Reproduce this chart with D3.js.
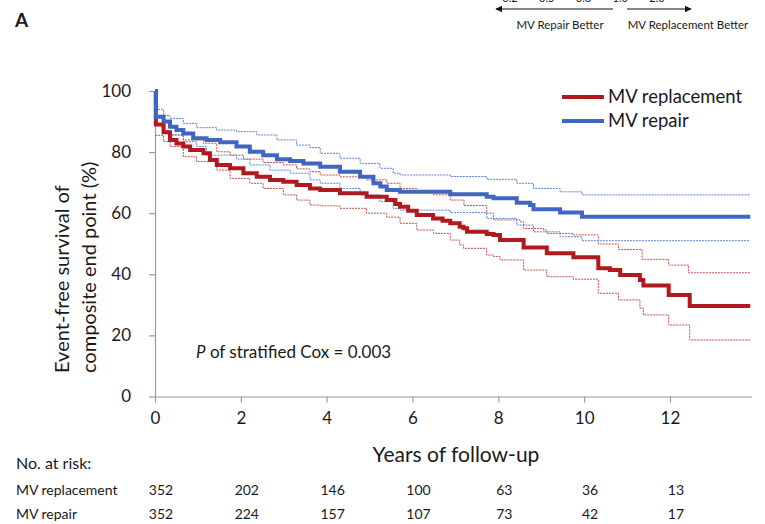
<!DOCTYPE html>
<html lang="en">
<head>
  <meta charset="UTF-8">
  <title>Event-free survival</title>
  <style>
    body { margin: 0; background: #fff; }
    text { font-family: Lato, "Open Sans", sans-serif; fill: #1a1a1a; }
  </style>
</head>
<body>
  <script src="https://d3js.org/d3.v7.min.js"></script>
  <script>
    // step data: [years, survival %]
    let replacement = [[0,100],[0.02,89],[0.2,86.5],[0.35,84],[0.5,82.8],[0.66,81.8],[0.82,80.7],[1.13,79.6],[1.28,77.4],[1.44,75.8],[1.75,74.7],[2.06,73.1],[2.37,71.9],[2.68,70.9],[2.99,70.3],[3.3,69.2],[3.61,68.1],[3.85,67.6],[4.31,66.5],[4.93,65.4],[5.4,64.3],[5.6,63],[5.71,62.1],[5.9,60.8],[6.1,59.4],[6.48,58.3],[6.7,57.5],[6.88,56.7],[7.1,55.6],[7.19,55.1],[7.27,53.9],[7.73,53.2],[7.89,52.9],[8.04,51.2],[8.59,48.8],[9.13,46.9],[9.75,45.6],[10.33,42],[10.6,41.4],[10.84,39.8],[11.3,38.1],[11.38,36.3],[11.97,33.2],[12.46,29.6]];
    let replacementUpper = [[0,89],[0.2,87],[0.35,85.6],[0.66,84],[1.13,82.9],[1.44,80.1],[1.75,79],[2.06,77.7],[2.52,76.6],[2.99,75.8],[3.3,74.5],[3.61,73.6],[3.85,72.5],[4.31,71.9],[4.93,70.9],[5.4,69.8],[5.71,68.1],[6.1,67],[6.49,66],[6.88,64.3],[7.2,62.5],[7.73,60],[7.89,57.8],[8.51,57.2],[8.59,55],[9.05,54.5],[9.13,53.4],[9.75,52.9],[10.33,49.9],[10.8,48.1],[11.35,44.9],[11.97,43],[12.43,40.5]];
    let replacementLower = [[0,85.5],[0.2,83.5],[0.35,81.8],[0.66,78.5],[0.97,76.9],[1.44,74.1],[1.75,71.4],[2.21,69.8],[2.52,68.1],[2.99,66],[3.3,64.3],[3.61,62.7],[3.85,62.4],[4.31,61.6],[4.93,60],[5.4,58.7],[5.71,56.7],[6.1,54.5],[6.49,53.4],[6.88,51.2],[7.1,49.6],[7.19,48.5],[7.73,46.3],[7.89,45.8],[8.04,44.7],[8.59,41.4],[9.13,39.2],[9.75,38.4],[10.33,33.8],[10.8,31.6],[11.3,28.9],[11.38,26.7],[11.97,23.4],[12.46,18.5]];
    let repair = [[0,100],[0.02,91.6],[0.2,90],[0.35,88.3],[0.5,87.2],[0.66,86.1],[0.89,84.5],[1.2,84],[1.52,83.2],[1.9,81.8],[2.21,80.1],[2.52,79],[2.84,77.7],[3.15,77.1],[3.46,76.3],[3.85,75.2],[4.31,73.6],[4.78,71.9],[5.09,69.8],[5.25,68.7],[5.4,67.6],[5.71,67],[6.88,66.2],[7.73,65.4],[7.89,64.9],[8.43,63.4],[8.74,62.7],[8.82,61.3],[9.44,60.2],[9.95,58.8]];
    let repairUpper = [[0,94],[0.2,92],[0.35,91],[0.66,89.4],[0.97,88],[1.44,87.2],[1.9,86.7],[2.37,85.6],[2.84,84],[3.3,82.3],[3.61,81.5],[3.85,79.6],[4.31,78],[4.78,76.3],[5.24,74.7],[5.55,73.1],[5.71,72.5],[6.88,72],[7.73,71.1],[8.43,69.8],[8.82,68.1],[9.44,67],[9.95,66]];
    let repairLower = [[0,89],[0.2,87],[0.35,85.6],[0.66,83.4],[0.97,81.8],[1.2,79],[1.9,77.7],[2.21,75.8],[2.68,74.1],[3.15,73.1],[3.61,70.9],[3.85,69.8],[4.31,68.1],[4.78,66],[5.24,63.8],[5.55,61.6],[5.71,61],[6.88,60.2],[7.73,58.3],[8.43,56.1],[8.82,53.9],[9.44,52.3],[9.95,51]];
    let lastYear = 13.87;

    let xTicks = [0, 2, 4, 6, 8, 10, 12];
    let yTicks = [0, 20, 40, 60, 80, 100];
    let riskReplacement = [352, 202, 146, 100, 63, 36, 13];
    let riskRepair = [352, 224, 157, 107, 73, 42, 17];
    let forestTicks = ["0.2", "0.5", "0.8", "1.0", "2.0"];

    let red = "#b01a1f";
    let blue = "#3f67c2";
    let redCI = "#c0504d";
    let blueCI = "#5b80cc";
    let axisGrey = "#9a9a9a";

    let svg = d3.select("body")
      .append("svg")
      .attr("width", 765)
      .attr("height", 524);

    let x = d3.scaleLinear().domain([0, 13.9]).range([155, 751.5]);
    let y = d3.scaleLinear().domain([0, 100]).range([396.5, 91]);

    // axes
    let xAxis = svg.append("g")
      .attr("transform", "translate(0," + y(0) + ")")
      .call(d3.axisBottom(x).tickValues(xTicks).tickSize(6).tickSizeOuter(0).tickPadding(9));
    let yAxis = svg.append("g")
      .attr("transform", "translate(" + x(0) + ",0)")
      .call(d3.axisLeft(y).tickValues(yTicks).tickSize(6).tickSizeOuter(0).tickPadding(18));

    svg.selectAll(".domain, .tick line").attr("stroke", axisGrey).attr("stroke-width", 1.2);
    xAxis.selectAll("text").style("font-size", "17px").attr("fill", "#1a1a1a");
    yAxis.selectAll("text").style("font-size", "17px").attr("fill", "#1a1a1a");

    // curves
    let line = d3.line()
      .x(d => x(d[0]))
      .y(d => y(d[1]))
      .curve(d3.curveStepAfter);

    function withEnd(data) {
      return data.concat([[lastYear, data[data.length - 1][1]]]);
    }

    let ciSeries = [
      { data: replacementUpper, color: redCI },
      { data: replacementLower, color: redCI },
      { data: repairUpper, color: blueCI },
      { data: repairLower, color: blueCI }
    ];
    ciSeries.forEach(function(s) {
      svg.append("path")
        .attr("d", line(withEnd(s.data)))
        .attr("fill", "none")
        .attr("stroke", s.color)
        .attr("stroke-width", 1)
        .attr("stroke-dasharray", "2,1");
    });

    svg.append("path")
      .attr("d", line(withEnd(replacement)))
      .attr("fill", "none")
      .attr("stroke", red)
      .attr("stroke-width", 4);
    svg.append("path")
      .attr("d", line(withEnd(repair)))
      .attr("fill", "none")
      .attr("stroke", blue)
      .attr("stroke-width", 4);

    // legend
    let legend = [
      { name: "MV replacement", color: red, yPos: 97 },
      { name: "MV repair", color: blue, yPos: 121 }
    ];
    legend.forEach(function(l) {
      svg.append("line")
        .attr("x1", 562).attr("x2", 604)
        .attr("y1", l.yPos).attr("y2", l.yPos)
        .attr("stroke", l.color)
        .attr("stroke-width", 4);
      svg.append("text")
        .attr("x", 608)
        .attr("y", l.yPos + 6)
        .style("font-size", "18.5px")
        .text(l.name);
    });

    // p value
    let pText = svg.append("text")
      .attr("x", 196)
      .attr("y", 358)
      .style("font-size", "17px");
    pText.append("tspan").style("font-style", "italic").text("P");
    pText.append("tspan").text(" of stratified Cox = 0.003");

    // axis titles
    svg.append("text")
      .attr("x", 456)
      .attr("y", 462)
      .attr("text-anchor", "middle")
      .style("font-size", "21px")
      .text("Years of follow-up");

    svg.append("text")
      .attr("transform", "translate(69,373) rotate(-90)")
      .style("font-size", "20px")
      .text("Event-free survival of");
    svg.append("text")
      .attr("transform", "translate(96,373) rotate(-90)")
      .style("font-size", "20px")
      .text("composite end point (%)");

    // number at risk
    svg.append("text")
      .attr("x", 16).attr("y", 469)
      .style("font-size", "16px")
      .text("No. at risk:");
    let riskRows = [
      { name: "MV replacement", values: riskReplacement, yPos: 495 },
      { name: "MV repair", values: riskRepair, yPos: 519 }
    ];
    riskRows.forEach(function(r) {
      svg.append("text")
        .attr("x", 16).attr("y", r.yPos)
        .style("font-size", "14px")
        .text(r.name);
      svg.selectAll(null)
        .data(r.values)
        .enter()
        .append("text")
        .attr("x", (d, i) => x(xTicks[i]) + 6)
        .attr("y", r.yPos)
        .attr("text-anchor", "middle")
        .style("font-size", "14px")
        .text(d => d);
    });

    // panel label
    svg.append("text")
      .attr("x", 15).attr("y", 27)
      .style("font-size", "19px")
      .style("font-weight", "bold")
      .text("A");

    // cropped forest plot remains at the top (cut off in the source too)
    let fx = d3.scalePoint().domain(forestTicks).range([510, 657]);
    svg.selectAll(null)
      .data(forestTicks)
      .enter()
      .append("text")
      .attr("x", d => fx(d))
      .attr("y", 2)
      .attr("text-anchor", "middle")
      .style("font-size", "11px")
      .text(d => d);

    let defs = svg.append("defs");
    defs.append("marker")
      .attr("id", "arrow")
      .attr("viewBox", "0 0 10 10")
      .attr("refX", 9).attr("refY", 5)
      .attr("markerWidth", 6).attr("markerHeight", 6)
      .attr("orient", "auto-start-reverse")
      .append("path")
      .attr("d", "M0,0 L10,5 L0,10 z")
      .attr("fill", "#111");
    svg.append("line")
      .attr("x1", 613).attr("x2", 496)
      .attr("y1", 9).attr("y2", 9)
      .attr("stroke", "#111").attr("stroke-width", 1.2)
      .attr("marker-end", "url(#arrow)");
    svg.append("line")
      .attr("x1", 627).attr("x2", 691)
      .attr("y1", 9).attr("y2", 9)
      .attr("stroke", "#111").attr("stroke-width", 1.2)
      .attr("marker-end", "url(#arrow)");
    svg.append("text")
      .attr("x", 560).attr("y", 29)
      .attr("text-anchor", "middle")
      .style("font-size", "11.5px")
      .text("MV Repair Better");
    svg.append("text")
      .attr("x", 688).attr("y", 29)
      .attr("text-anchor", "middle")
      .style("font-size", "11.5px")
      .text("MV Replacement Better");
  </script>
</body>
</html>
